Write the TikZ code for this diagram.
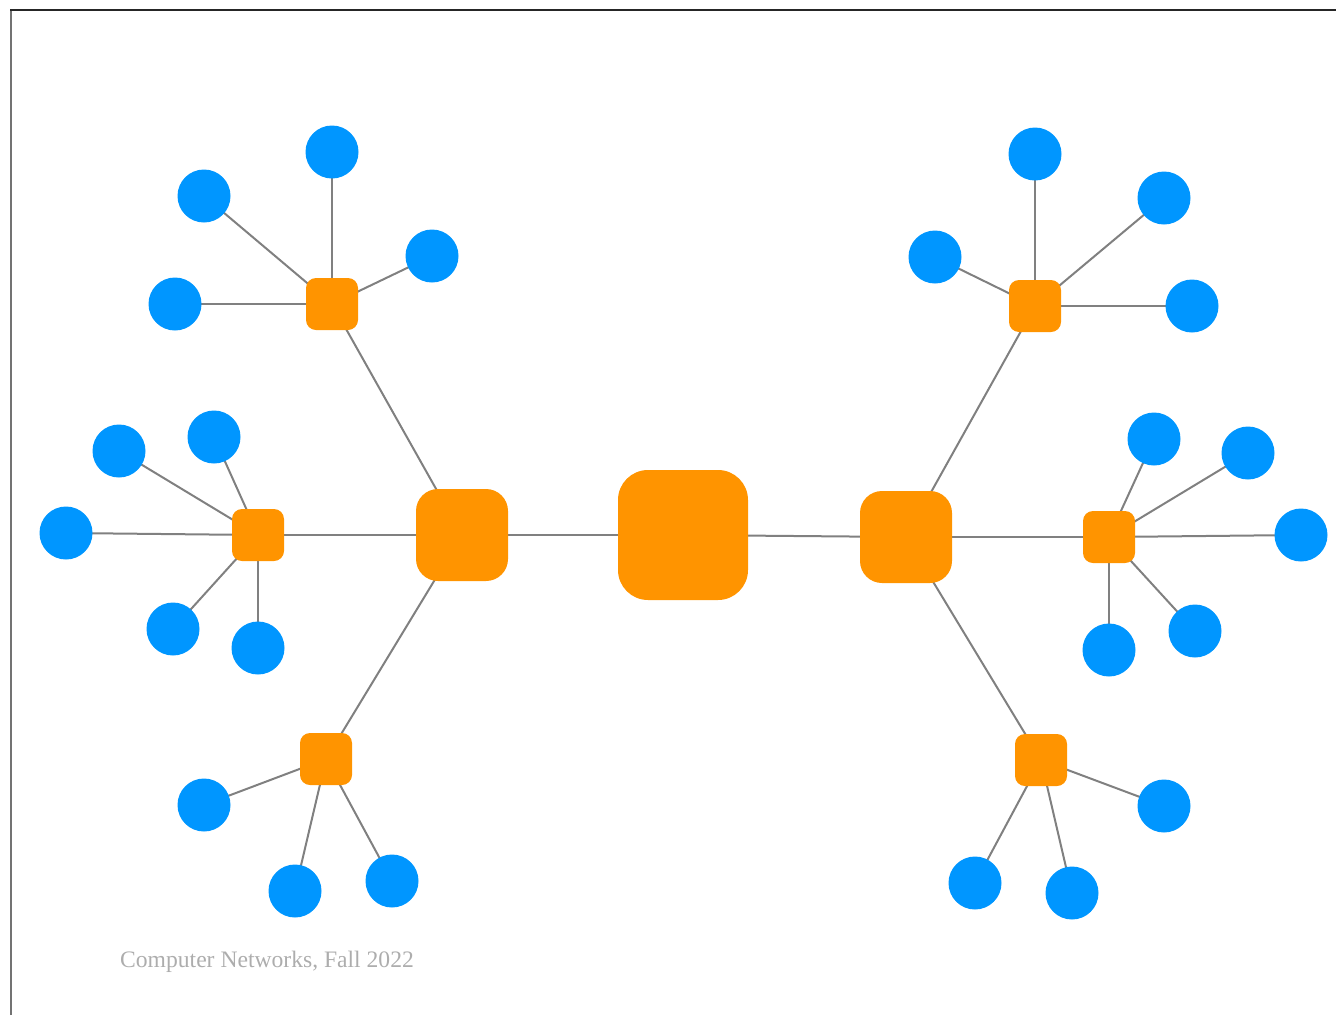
\documentclass[tikz,border=0pt]{standalone}
\usepackage{fontspec}
\setmainfont{Liberation Serif}
\usetikzlibrary{positioning,backgrounds}
\definecolor{sworange}{RGB}{255,148,0}
\definecolor{hostblue}{RGB}{0,150,255}
\definecolor{wire}{RGB}{128,128,128}
\tikzset{
  core/.style={rectangle,rounded corners=30pt,fill=sworange,minimum size=130pt,inner sep=0pt},
  hub/.style={rectangle,rounded corners=22pt,fill=sworange,minimum size=92pt,inner sep=0pt},
  switch/.style={rectangle,rounded corners=10pt,fill=sworange,minimum size=52pt,inner sep=0pt},
  host/.style={circle,fill=hostblue,minimum size=53pt,inner sep=0pt},
  link/.style={draw=wire,line width=2pt}
}

\begin{document}
\begin{tikzpicture}[x=1pt,y=-1pt]
\useasboundingbox (0,0) rectangle (1336,1015);
\draw[black!55,line width=1.5pt] (11,1015) -- (11,10);
\draw[black!85,line width=1.5pt] (10.25,10) -- (1336,10);

% switches
\node[core] (core) at (683,535) {};
\node[hub] (hubL) at (462,535) {};
\node[hub] (hubR) at (906,537) {};
\node[switch] (swTL) at (332,304) {};
\node[switch] (swML) at (258,535) {};
\node[switch] (swBL) at (326,759) {};
\node[switch] (swTR) at (1035,306) {};
\node[switch] (swMR) at (1109,537) {};
\node[switch] (swBR) at (1041,760) {};

% hosts
\foreach \n/\x/\y in {tl1/332/152, tl2/204/196, tl3/432/256, tl4/175/304,
    ml1/119/451, ml2/214/437, ml3/66/533, ml4/173/629, ml5/258/648,
    bl1/204/805, bl2/295/891, bl3/392/881,
    tr1/1035/154, tr2/1164/198, tr3/935/257, tr4/1192/306,
    mr1/1154/439, mr2/1248/453, mr3/1301/535, mr4/1195/631, mr5/1109/650,
    br1/1164/806, br2/975/883, br3/1072/893}
  \node[host] (\n) at (\x,\y) {};

% links
\begin{scope}[on background layer]
\foreach \a/\b in {core/hubL, core/hubR,
    hubL/swTL, hubL/swML, hubL/swBL, hubR/swTR, hubR/swMR, hubR/swBR}
  \draw[link] (\a.center) -- (\b.center);
\foreach \b in {tl1,tl2,tl3,tl4} \draw[link] (swTL.center) -- (\b.center);
\foreach \b in {ml1,ml2,ml3,ml4,ml5} \draw[link] (swML.center) -- (\b.center);
\foreach \b in {bl1,bl2,bl3} \draw[link] (swBL.center) -- (\b.center);
\foreach \b in {tr1,tr2,tr3,tr4} \draw[link] (swTR.center) -- (\b.center);
\foreach \b in {mr1,mr2,mr3,mr4,mr5} \draw[link] (swMR.center) -- (\b.center);
\foreach \b in {br1,br2,br3} \draw[link] (swBR.center) -- (\b.center);
\end{scope}

\node[anchor=base west,inner sep=0pt,text=black!32,font=\fontsize{23.6pt}{28pt}\selectfont] (footer) at (120,967) {Computer Networks, Fall 2022};
\end{tikzpicture}
\end{document}
